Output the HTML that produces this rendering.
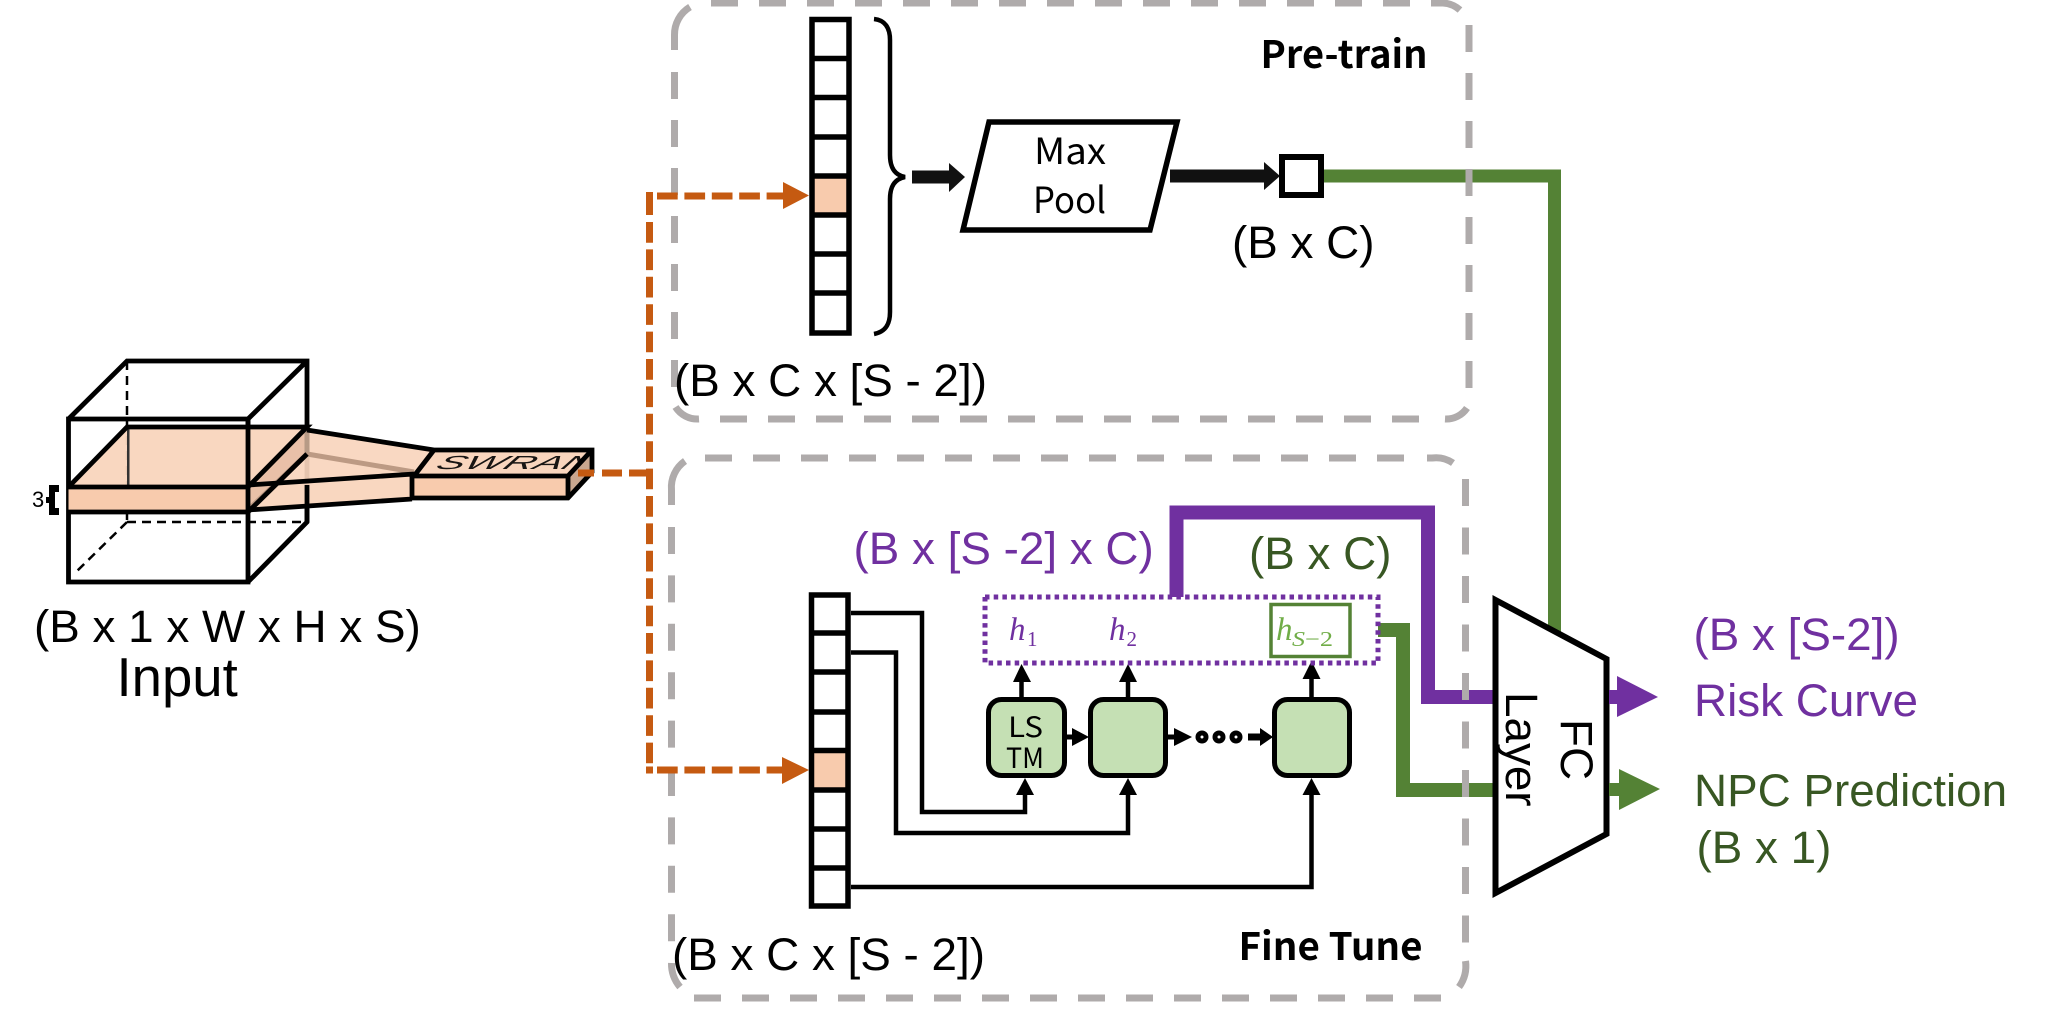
<!DOCTYPE html>
<html><head><meta charset="utf-8"><style>
html,body{margin:0;padding:0;background:#fff;width:2064px;height:1009px;overflow:hidden}
svg{display:block}
text{font-family:"Liberation Sans",sans-serif;font-size:45.8px;fill:#000}
.n{font-family:"Noto Sans CJK SC","Liberation Sans",sans-serif}
.b{font-family:"Noto Sans CJK SC","Liberation Sans",sans-serif;font-weight:700;font-size:38px}
.p{fill:#7030A0}.g{fill:#385723}
.h{font-family:"Liberation Serif",serif;font-style:italic;font-size:33px}
.s{font-family:"Liberation Serif",serif;font-size:21px}
</style></head><body>
<svg width="2064" height="1009" viewBox="0 0 2064 1009" xmlns="http://www.w3.org/2000/svg">
<defs><clipPath id="sw"><polygon points="414,476 434,450 592,450 574,470 568,476"/></clipPath></defs>
<rect width="2064" height="1009" fill="#fff"/>

<!-- coloured thick lines -->
<path d="M1324 176H1554.5V640" fill="none" stroke="#548235" stroke-width="13"/>
<path d="M1176.5 597V512.5H1428V697H1500" fill="none" stroke="#7030A0" stroke-width="14"/>
<path d="M1378 630H1403V790H1500" fill="none" stroke="#548235" stroke-width="14"/>

<!-- grey dashed boxes -->
<g fill="none" stroke="#AFABAB" stroke-width="7">
<path d="M674.5 50V35A32 32 0 0 1 690 7"/>
<path d="M674.5 72V388" stroke-dasharray="27 21"/>
<path d="M675.500 407A26 26 0 0 0 699 419"/>
<path d="M720 419H1421" stroke-dasharray="27 21"/>
<path d="M1445 419A25 25 0 0 0 1467 408"/>
<path d="M1469 25V390" stroke-dasharray="27 21"/>
<path d="M711 3H1410" stroke-dasharray="27 21"/>
<path d="M1431 3H1443A28 28 0 0 1 1460 10"/>

<path d="M671.500 505V490A32 32 0 0 1 685 461"/>
<path d="M671.500 527V945" stroke-dasharray="27 21.400"/>
<path d="M671.500 963A36 36 0 0 0 680 987"/>
<path d="M694 998H1443" stroke-dasharray="27 21"/>
<path d="M1465.500 961A36 36 0 0 1 1459 987"/>
<path d="M1465.500 479V945" stroke-dasharray="27 21.500"/>
<path d="M705 458H1406" stroke-dasharray="27 21"/>
<path d="M1427 458H1432A30 30 0 0 1 1453 463"/>
</g>

<!-- cube -->
<g fill="none" stroke="#000">
<path d="M127 361V522M127 522H307M127 522L75 573" stroke-width="2.5" stroke-dasharray="9 6"/>
<path d="M68.5 419H248V582H68.5ZM68.5 419L127 361H307V522L248 582M248 419L307 361" stroke-width="4.8" stroke-linejoin="miter"/>
</g>
<polygon points="68.5,487 127,427 307,427 248,487" fill="#F9D5BD" fill-opacity=".95"/>
<rect x="127" y="427" width="2.5" height="60" fill="#333"/>
<rect x="68.5" y="487" width="179.5" height="25" fill="#F8CBAD"/>
<polygon points="248,487 307,430 434,450 414,474" fill="#F9D5BD" fill-opacity=".92"/>
<polygon points="248,487 414,474 414,499 248,510" fill="#F9D5BD" fill-opacity=".95"/>
<polygon points="248,487 307,430 307,454 248,510" fill="#DDB196" fill-opacity=".6"/>
<path d="M307 430V454" stroke="#B79A86" stroke-width="5"/>
<path d="M307 454L414 472M307 454L248 510" fill="none" stroke="#BC9A84" stroke-width="5"/>
<path d="M248 419V512" stroke="#000" stroke-width="4.8"/>
<path d="M307 485V522" stroke="#000" stroke-width="4.8"/>
<polygon points="414,476 434,450 592,450 568,476" fill="#F9D5BD"/>
<rect x="414" y="476" width="154" height="22" fill="#F8CBAD"/>
<g clip-path="url(#sw)"><text transform="matrix(2.2 0 -0.7 1 434 469)" style="font-size:19px;font-style:italic" fill-opacity=".9">SWRAN</text></g>
<polygon points="568,476 592,450 592,472 568,498" fill="#C9A78F"/>
<g fill="none" stroke="#000" stroke-width="4.8">
<path d="M68.5 487H248M68.5 512H248M68.5 487L127 427H307L248 487M248 512L307 454"/>
<path d="M307 430L434 450M248 485L414 474M248 510L412 499M412 474V499M414 476L434 450H592V472L568 498H412M414 476H568V498M568 476L592 450"/>
</g>
<text x="32" y="507" style="font-size:22px">3</text>
<path d="M49 485H59V492H55V508H59V515H49ZM46 497H49V503H46Z" fill="#000"/>
<text x="34" y="642">(B x 1 x W x H x S)</text>
<text x="116.500" y="696" style="font-size:54.500px">Input</text>

<!-- orange connectors -->
<g fill="none" stroke="#C55A11" stroke-width="7">
<path d="M649.500 192V215"/>
<path d="M649.500 222V773" stroke-dasharray="20.700 6.700"/>
<path d="M578 473H594M602 473H622M629 473H650"/>
<path d="M646 196H653"/>
<path d="M657 196H785" stroke-dasharray="20.700 6.700"/>
<path d="M646 770H653"/>
<path d="M657 770H784" stroke-dasharray="20.700 6.700"/>
</g>
<polygon points="783,182 809,195.500 783,209" fill="#C55A11"/>
<polygon points="782,757 809,770 782,784" fill="#C55A11"/>

<!-- pre-train column -->
<rect x="812" y="176" width="37" height="39" fill="#F8CBAD"/>
<path d="M812 19.5H849V333H812ZM812 58.5H849M812 97.5H849M812 137H849M812 176H849M812 215H849M812 254H849M812 293H849" fill="none" stroke="#000" stroke-width="5.5"/>
<path d="M874 19C885 20 890 28 890 40V155C890 168 895 175 905 177C895 179 890 186 890 199V312C890 325 885 332 874 334" fill="none" stroke="#000" stroke-width="4.5"/>
<rect x="912" y="170.500" width="38" height="13" fill="#111"/>
<polygon points="949,163 965,177 949,192" fill="#111"/>
<polygon points="989,122 1177,122 1150,230 963,230" fill="#fff" stroke="#000" stroke-width="5.5"/>
<text class="n" x="1034" y="164" style="font-size:36px" textLength="72" lengthAdjust="spacingAndGlyphs">Max</text>
<text class="n" x="1033" y="213" style="font-size:36px" textLength="73" lengthAdjust="spacingAndGlyphs">Pool</text>
<rect x="1170" y="169.500" width="96" height="13" fill="#111"/>
<polygon points="1264,162 1280,176 1264,190" fill="#111"/>
<rect x="1282" y="157" width="39" height="38" fill="#fff" stroke="#000" stroke-width="6"/>
<text x="1232" y="258">(B x C)</text>
<text x="674" y="396">(B x C x [S - 2])</text>
<text class="b" x="1260.500" y="68" textLength="167" lengthAdjust="spacingAndGlyphs">Pre-train</text>

<!-- fine tune column -->
<rect x="812" y="751" width="37" height="39" fill="#F8CBAD"/>
<path d="M811.500 595H848V906H811.500ZM811.500 633H848M811.500 672H848M811.500 712H848M811.500 750.500H848M811.500 790H848M811.500 829H848M811.500 868H848" fill="none" stroke="#000" stroke-width="5.5"/>
<g fill="none" stroke="#000" stroke-width="4.5">
<path d="M851 613H922V812H1025V790"/>
<path d="M851 652.500H896V833H1128V790"/>
<path d="M851 887H1311.500V790"/>
<path d="M1021.500 698V680M1128 698V680M1311.500 698V676"/>
</g>
<g fill="#000">
<polygon points="1025,778 1034,795 1016,795"/>
<polygon points="1128,778 1137,795 1119,795"/>
<polygon points="1311.500,778 1320.500,795 1302.500,795"/>
<polygon points="1021.500,664 1031,682 1013,682"/>
<polygon points="1128,664 1137,682 1119,682"/>
<polygon points="1311.500,661 1320.500,679 1302.500,679"/>
</g>
<g fill="#C5E0B4" stroke="#000" stroke-width="5">
<rect x="988.500" y="699.500" width="76" height="76" rx="13"/>
<rect x="1090.500" y="699.500" width="75" height="76" rx="13"/>
<rect x="1274.500" y="699.500" width="75" height="76" rx="13"/>
</g>
<text class="n" x="1008" y="737" style="font-size:28px" textLength="35" lengthAdjust="spacingAndGlyphs">LS</text>
<text class="n" x="1006" y="768" style="font-size:28px" textLength="38" lengthAdjust="spacingAndGlyphs">TM</text>
<g fill="#000">
<rect x="1065" y="734.500" width="10" height="5"/><polygon points="1072,728 1089,737 1072,746"/>
<rect x="1168" y="734.500" width="8" height="5"/><polygon points="1174,728 1192,737 1174,746"/>
<rect x="1248" y="733.500" width="14" height="7"/><polygon points="1260,728 1273,737 1260,746"/>
</g>
<g fill="#fff" stroke="#000" stroke-width="5">
<circle cx="1202" cy="737" r="4"/><circle cx="1219" cy="737" r="4"/><circle cx="1236" cy="737" r="4"/>
</g>
<rect x="985" y="597" width="393" height="66" fill="none" stroke="#7030A0" stroke-width="5" stroke-dasharray="4.500 4.200"/>
<rect x="1271" y="604.500" width="79" height="52" fill="none" stroke="#548235" stroke-width="3.500"/>
<text class="h" x="1009" y="640" style="fill:#7030A0">h</text>
<text class="s" x="1027" y="646" style="fill:#7030A0">1</text>
<text class="h" x="1109" y="640" style="fill:#7030A0">h</text>
<text class="s" x="1126.500" y="646" style="fill:#7030A0">2</text>
<text class="h" x="1276" y="640" style="fill:#70AD47">h</text>
<text class="s" x="1292" y="646" style="fill:#70AD47;font-style:italic" textLength="13" lengthAdjust="spacingAndGlyphs">S</text>
<text class="s" x="1305" y="646" style="fill:#70AD47" textLength="28" lengthAdjust="spacingAndGlyphs">−2</text>
<text class="p" x="853.500" y="564">(B x [S -2] x C)</text>
<text class="g" x="1249" y="569">(B x C)</text>
<text x="672" y="970">(B x C x [S - 2])</text>
<text class="b" x="1238.500" y="960" textLength="184" lengthAdjust="spacingAndGlyphs">Fine Tune</text>

<!-- FC -->
<polygon points="1495.500,600 1606.500,659 1606.500,834 1495.500,893" fill="#fff" stroke="#000" stroke-width="6"/>
<text transform="translate(1561 719) rotate(90)">FC</text>
<text transform="translate(1506 692) rotate(90)">Layer</text>
<rect x="1609" y="690" width="10" height="14" fill="#7030A0"/>
<polygon points="1617,676 1658,697 1617,717" fill="#7030A0"/>
<rect x="1609" y="783" width="12" height="13" fill="#548235"/>
<polygon points="1619,769 1660,789 1619,810" fill="#548235"/>
<text class="p" x="1693.500" y="650">(B x [S-2])</text>
<text class="p" x="1694" y="716">Risk Curve</text>
<text class="g" x="1694" y="806">NPC Prediction</text>
<text class="g" x="1696.500" y="863">(B x 1)</text>
</svg>
</body></html>
